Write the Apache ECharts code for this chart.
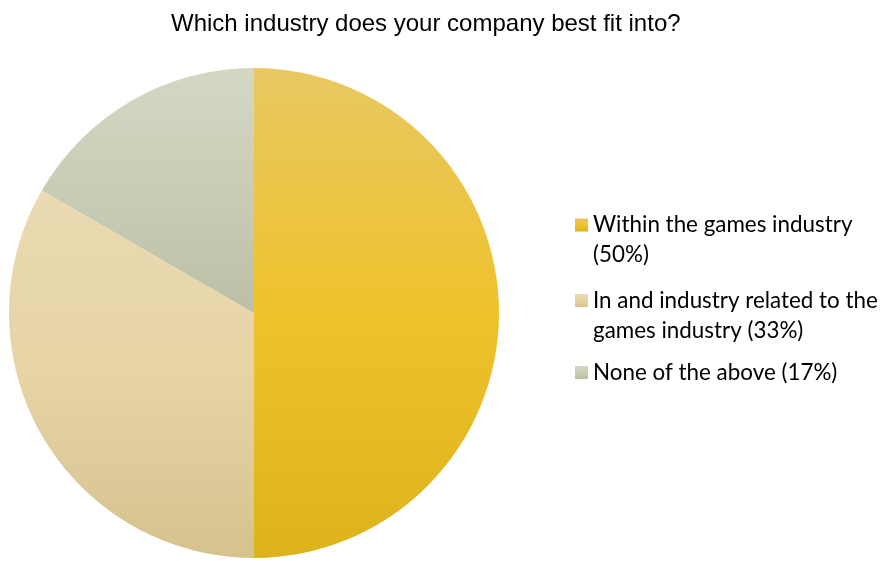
<!DOCTYPE html>
<html>
<head>
<meta charset="utf-8">
<script src="https://cdn.jsdelivr.net/npm/echarts@6/dist/echarts.min.js"></script>
<style>
  html, body { margin: 0; padding: 0; background: #fff; }
  #chart { width: 883px; height: 561px; }
</style>
</head>
<body>
<div id="chart"></div>
<script>
// Survey responses: industry fit
const categories = [
  'Within the games industry (50%)',
  'In and industry related to the games industry (33%)',
  'None of the above (17%)'
];
const legendLabels = [
  'Within the games industry\n(50%)',
  'In and industry related to the\ngames industry (33%)',
  'None of the above (17%)'
];
const shares = [50, 33.33, 16.67];

// Vertical gradient fills per slice (top, middle, bottom)
const sliceColors = [
  ['#E8C862', '#EEC22C', '#DDB31B'],
  ['#EBDAB2', '#E6D4A6', '#D5C28E'],
  ['#D4D7C2', '#C9CDB6', '#BBBFA5']
];

function grad(c) {
  return new echarts.graphic.LinearGradient(0, 0, 0, 1, [
    { offset: 0, color: c[0] },
    { offset: 0.5, color: c[1] },
    { offset: 1, color: c[2] }
  ]);
}

const chart = echarts.init(document.getElementById('chart'), null, { renderer: 'canvas' });

// Wrapped labels get a leading blank line so the centred block puts
// the first text line level with the marker.
const labelMap = {};
categories.forEach((c, i) => {
  const l = legendLabels[i];
  labelMap[c] = l.indexOf('\n') >= 0 ? '\n' + l : l;
});

// One legend block per entry
const legendTops = [180, 255.5, 357.5];
const legends = categories.map((c, i) => ({
  orient: 'vertical',
  left: 575,
  top: legendTops[i],
  padding: 0,
  itemWidth: 13,
  itemHeight: 13,
  icon: 'rect',
  selectedMode: false,
  formatter: name => labelMap[name],
  textStyle: {
    fontFamily: 'Lato',
    fontSize: 22.4,
    lineHeight: 30,
    color: '#000'
  },
  data: [c]
}));

chart.setOption({
  animation: false,
  title: {
    text: 'Which industry does your company best fit into?',
    left: 166,
    top: 7,
    textStyle: {
      fontFamily: 'Liberation Sans',
      fontSize: 24,
      fontWeight: 'normal',
      color: '#000'
    }
  },
  legend: legends,
  series: [{
    type: 'pie',
    center: [254, 313],
    radius: 245,
    startAngle: 90,
    clockwise: true,
    label: { show: false },
    labelLine: { show: false },
    emphasis: { disabled: true },
    data: categories.map((c, i) => ({
      name: c,
      value: shares[i],
      itemStyle: { color: grad(sliceColors[i]) }
    }))
  }]
});
</script>
</body>
</html>
